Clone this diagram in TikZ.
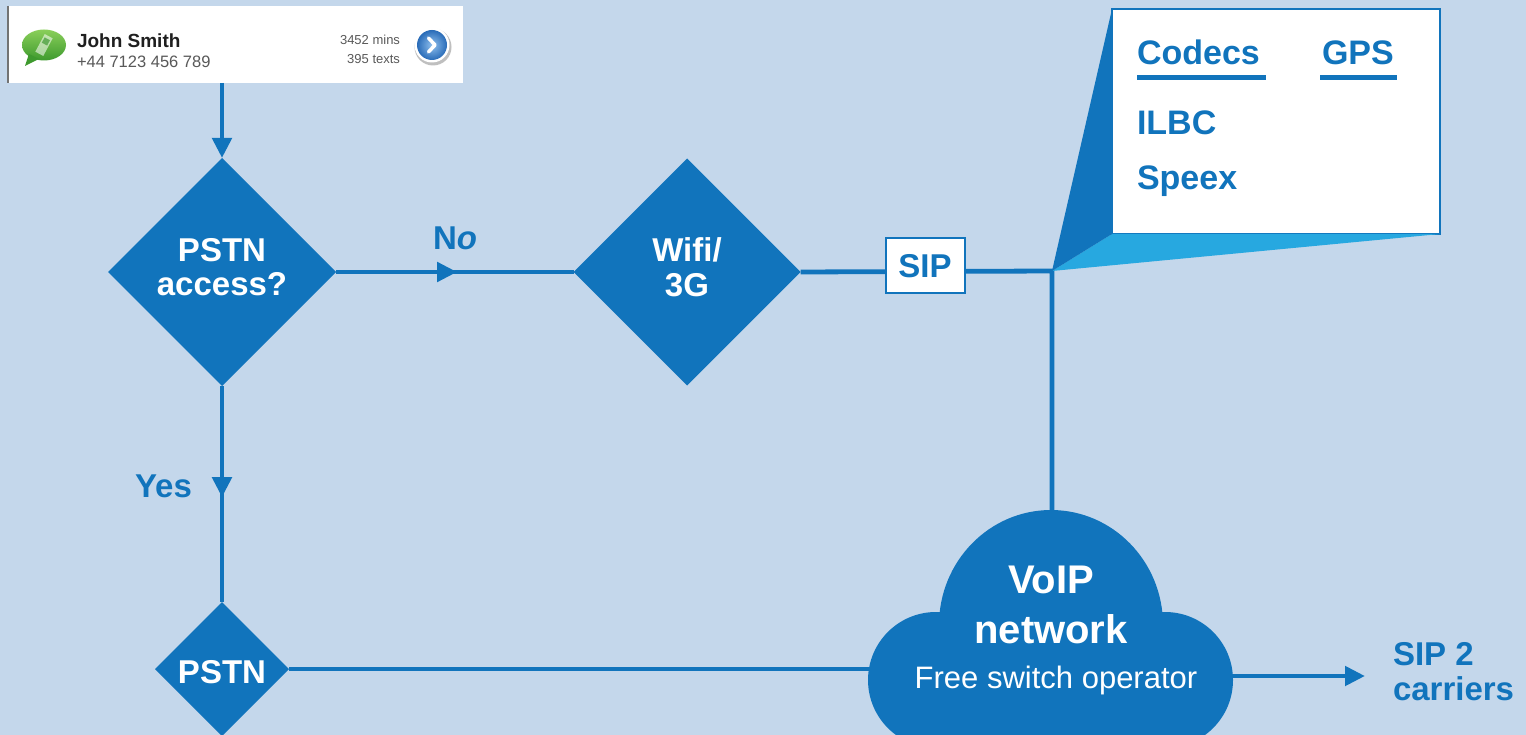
\documentclass[tikz,border=0pt]{standalone}
\usepackage{fontspec}
\setmainfont{Liberation Sans}
\usetikzlibrary{shapes.geometric,arrows.meta,decorations.markings}
\definecolor{bg}{HTML}{C4D7EB}
\definecolor{mb}{HTML}{1174BC}
\definecolor{lb}{HTML}{27A8E0}
\definecolor{gA}{HTML}{8ACF5A}
\definecolor{gB}{HTML}{3E9A2E}
\definecolor{btA}{HTML}{8FC0EE}
\definecolor{btB}{HTML}{2A6CB8}
\newcommand\myfs[1]{\fontsize{#1}{#1}\selectfont}
\begin{document}
\begin{tikzpicture}[x=1pt,y=-1pt,
  every node/.style={inner sep=0pt, outer sep=0pt},
  dia/.style={diamond, fill=mb, inner sep=0pt, aspect=1, minimum width=#1, minimum height=#1},
  wtext/.style={text=white, font=\bfseries\myfs{33}, anchor=base},
  btext/.style={text=mb, font=\bfseries\myfs{33}, anchor=base west},
  conn/.style={draw=mb, line width=4.8pt},
  tip/.style={-{Triangle[length=20pt,width=19pt]}},
  midtip/.style={postaction={decorate}, decoration={markings, mark=at position #1 with {\arrow{Triangle[length=20pt,width=19pt]}}}}
]
\useasboundingbox (0,0) rectangle (1526,735);
\clip (0,0) rectangle (1526,735);
\fill[bg] (0,0) rectangle (1526,735);

% contact card
\node[fill=white, minimum width=455, minimum height=77, anchor=north west] (card) at (8,6) {};
\draw[black!55, line width=1.5pt] (card.north west) -- (card.south west);
\shade[top color=gA, bottom color=gB] (44,45) ellipse (22 and 15.5);
\fill[gB] (29,54) -- (25,66) -- (39,59) -- cycle;
\fill[white, opacity=0.55, rotate around={-28:(44,45)}] (39.5,35) rectangle (48.5,55);
\fill[gB!80, rotate around={-28:(44,45)}] (41,38) rectangle (47,44);
\node[anchor=base west, font=\bfseries\myfs{19}, text=black!88] (name) at (77,48) {John Smith};
\node[anchor=base west, font=\myfs{16.5}, text=black!65] (phone) at (77,68) {+44 7123 456 789};
\node[anchor=base east, font=\myfs{13}, text=black!65] (mins) at (400,45) {3452 mins};
\node[anchor=base east, font=\myfs{13}, text=black!65] (texts) at (400,64) {395 texts};
\fill[black!25] (433,47) circle (18.5);
\fill[white] (432,45) circle (17.5);
\shade[inner color=btA, outer color=btB] (432,45) circle (15);
\draw[white, line width=3.5pt, line cap=round, line join=round] (428.5,38) -- (435,45) -- (428.5,52);

% diamonds
\node[dia=228] (d1) at (222,272) {};
\node[dia=227] (d2) at (687,272) {};
\node[dia=134] (d3) at (222,669) {};
\node[wtext] (t1a) at (222,262) {PSTN};
\node[wtext] (t1b) at (222,296) {access?};
\node[wtext] (t2a) at (687,262) {Wifi/};
\node[wtext] (t2b) at (687,297) {3G};
\node[wtext] (t3) at (222,683) {PSTN};

% coordinates
\coordinate (cardend) at (d1.north |- card.south);
\coordinate (junction) at (1052,271);
\coordinate (cloudtop) at (1052,515);
\coordinate (cloudleft) at (872,669);
\coordinate (cloudright) at (1228,676);
\coordinate (arrowend) at (1365,676);

% connectors
\draw[conn, tip] (cardend) -- (d1.north);
\draw[conn, midtip=0.51] (d1.east) -- (d2.west);
\draw[conn, midtip=0.515] (d1.south) -- (d3.north);
\draw[conn, line join=miter] (d2.east) -- (junction) -- (cloudtop);
\draw[conn] (d3.east) -- (cloudleft);
\draw[conn, tip] (cloudright) -- (arrowend);

\node[btext] (no) at (433,250) {N\textit{o}};
\node[btext] (yes) at (135,497) {Yes};

% SIP box
\node[draw=mb, line width=2pt, fill=white, minimum width=79, minimum height=55, font=\bfseries\myfs{33}, text=mb] (sip) at (925,266) {SIP};

% callout
\node[draw=mb, line width=2pt, fill=white, minimum width=328, minimum height=225, anchor=north west] (callout) at (1112,9) {};
\fill[lb] (callout.south west) -- (callout.south east) -- (junction) -- cycle;
\fill[mb] (callout.north west) -- (callout.south west) -- (junction) -- cycle;
\node[btext, font=\bfseries\myfs{34}] (codecs) at (1137,65) {Codecs};
\node[btext, font=\bfseries\myfs{34}] (gps) at (1322,65) {GPS};
\fill[mb] (1137,75) rectangle (1266,80);
\fill[mb] (1320,75) rectangle (1397,80);
\node[btext, font=\bfseries\myfs{34}] (ilbc) at (1137,135) {ILBC};
\node[btext, font=\bfseries\myfs{34}] (speex) at (1137,190) {Speex};

% cloud
\fill[mb] (936,680) circle (68);
\fill[mb] (1165,680) circle (68);
\fill[mb] (1051,625) ellipse (112 and 115);
\fill[mb] (936,625) rectangle (1165,760);
\node[wtext, font=\bfseries\myfs{40}] (voip) at (1051,593) {VoIP};
\node[wtext, font=\bfseries\myfs{40}] (network) at (1051,643) {network};
\node[wtext, font=\myfs{31}] (fso) at (1056,688) {Free switch operator};

\node[btext] (sip2a) at (1393,665) {SIP 2};
\node[btext] (sip2b) at (1393,700) {carriers};
\end{tikzpicture}
\end{document}
